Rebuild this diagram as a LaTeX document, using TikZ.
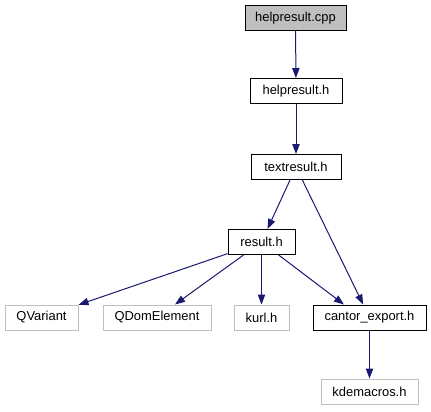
\documentclass[tikz,border=0pt]{standalone}
\usepackage{fontspec}
\setmainfont{Liberation Sans}
\usetikzlibrary{arrows.meta}
\definecolor{edgeblue}{HTML}{191970}
\definecolor{extgray}{HTML}{BFBFBF}
\begin{document}
\begin{tikzpicture}[x=0.75pt, y=-0.75pt,
  hfile/.style={rectangle, draw=black, fill=white, line width=0.75pt, minimum height=18.75pt, inner sep=0pt, font={\fontsize{9.7}{11}\selectfont}},
  hroot/.style={hfile, fill=extgray},
  hext/.style={hfile, draw=extgray},
  incl/.style={draw=edgeblue, line width=0.75pt, -{Triangle[length=7.5pt, width=5.5pt, fill=edgeblue]}}
]
\useasboundingbox (0,0) rectangle (431,411);
\node[hroot, minimum width=75.75pt] (hcpp) at (295.5,18) {helpresult.cpp};
\node[hfile, minimum width=69pt] (hh) at (296,91) {helpresult.h};
\node[hfile, minimum width=67.5pt] (th) at (296,167) {textresult.h};
\node[hfile, minimum width=50.25pt] (rh) at (261.5,242) {result.h};
\node[hext, minimum width=54.75pt] (qv) at (41.5,317.5) {QVariant};
\node[hext, minimum width=81pt] (qde) at (157,317.5) {QDomElement};
\node[hext, minimum width=41.25pt] (ku) at (261.5,317.5) {kurl.h};
\node[hfile, minimum width=84.75pt] (ce) at (369.5,317.5) {cantor\_export.h};
\node[hext, minimum width=72.75pt] (km) at (369.5,391.5) {kdemacros.h};
\draw[incl] (hcpp) -- (hh);
\draw[incl] (hh) -- (th);
\draw[incl] (th) -- (rh);
\draw[incl] (th) -- (ce);
\draw[incl] (rh) -- (qv);
\draw[incl] (rh) -- (qde);
\draw[incl] (rh) -- (ku);
\draw[incl] (rh) -- (ce.153);
\draw[incl] (ce) -- (km);
\end{tikzpicture}
\end{document}
